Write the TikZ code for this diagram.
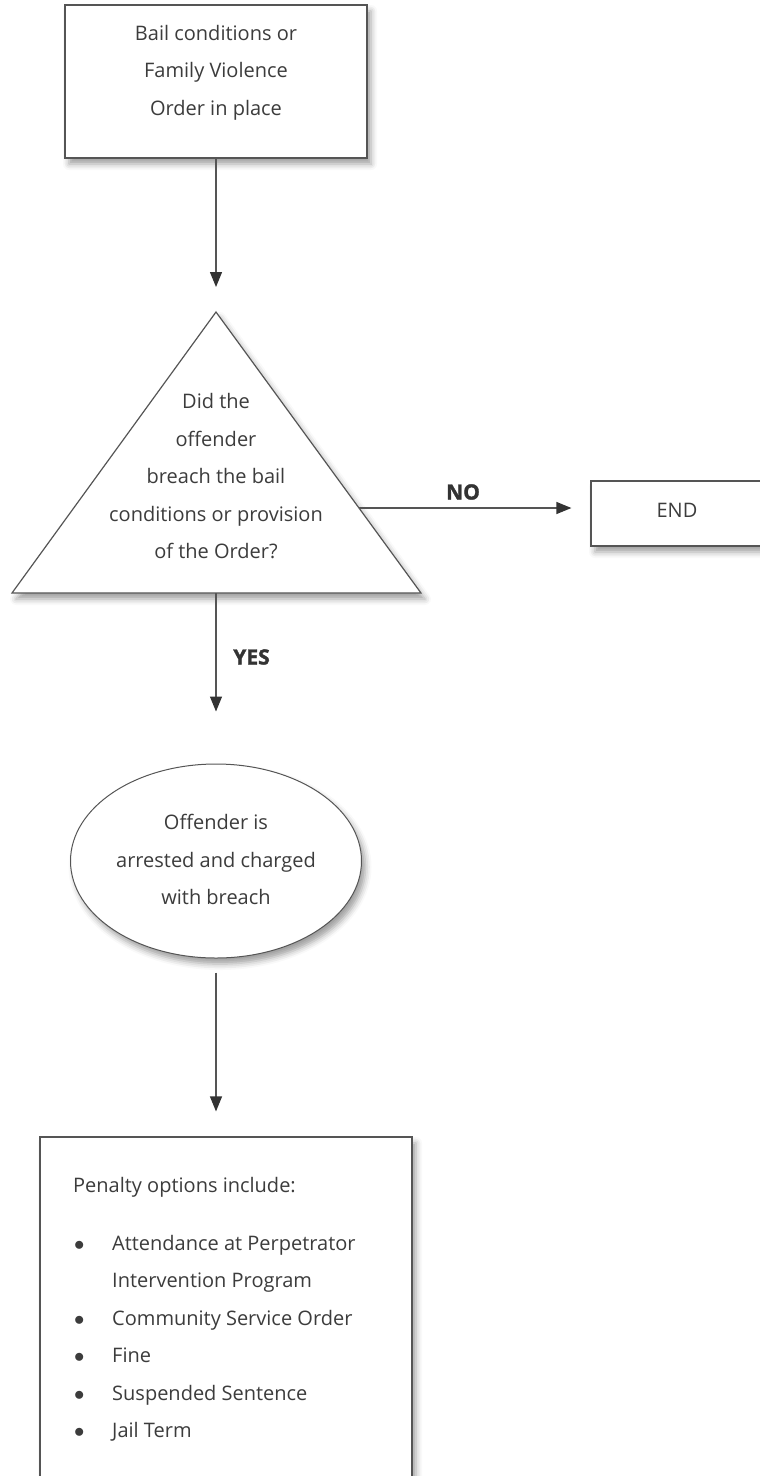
\documentclass[tikz,border=0pt]{standalone}
\usepackage{fontspec}
\setmainfont{Open Sans}
\newfontfamily\heavyfont[BoldFeatures={FakeBold=1.6}]{Open Sans}
\usetikzlibrary{arrows.meta,shapes.geometric,shadows.blur,calc}
\definecolor{ink}{HTML}{3C3C3C}
\definecolor{edge}{HTML}{555555}
\definecolor{tipc}{HTML}{333333}
\begin{document}
\begin{tikzpicture}[x=1pt,y=-1pt,
  softshadow/.style={blur shadow={shadow xshift=4pt,shadow yshift=-6pt,shadow blur radius=6pt,shadow opacity=38}},
  boxsh/.style={draw=edge,line width=1.2pt,fill=white,rectangle,inner sep=0pt,softshadow},
  ellsh/.style={draw=edge,line width=1pt,fill=white,ellipse,inner sep=0pt,softshadow},
  txt/.style={font=\fontsize{20}{37.5}\selectfont,text=ink,align=center,inner sep=0pt},
  ptxt/.style={font=\fontsize{20}{37.5}\selectfont,text=ink,inner sep=0pt,anchor=base west},
  lbl/.style={font=\fontsize{21}{21}\selectfont\heavyfont\bfseries,text=tipc,inner sep=0pt},
  arr/.style={draw=edge,line width=1.2pt,-{Triangle[length=15pt,width=12pt,fill=tipc,color=tipc]}}
]
\useasboundingbox (0,0) rectangle (760,1476);

% start box
\node[boxsh,minimum width=302pt,minimum height=153pt] (start) at (216,81.5) {};
\node[txt] (starttxt) at (216,72.5) {Bail conditions or\\Family Violence\\Order in place};

% decision triangle
\coordinate (apex) at (216,312);
\coordinate (bl) at (12,593);
\coordinate (br) at (421,593);
\coordinate (basemid) at (216,593);
\path[draw=edge,line width=1.2pt,fill=white,softshadow] (apex) -- (br) -- (bl) -- cycle;
\node[txt] (qtxt) at (216,476.5) {Did the\\offender\\breach the bail\\conditions or provision\\of the Order?};
\coordinate (noout) at ($(apex)!0.6975!(br)$);

% END box
\node[boxsh,minimum width=176pt,minimum height=65pt] (endb) at (679,513.5) {};
\node[txt] (endtxt) at (677,510) {END};

% ellipse
\node[ellsh,minimum width=291pt,minimum height=194pt] (ell) at (216,861) {};
\node[txt] (elltxt) at (216,859.5) {Offender is\\arrested and charged\\with breach};

% penalty box
\node[boxsh,minimum width=372pt,minimum height=363pt] (pen) at (226,1318.5) {};
\node[ptxt] (ph) at (73,1192) {Penalty options include:};
\foreach \yy/\tt [count=\i] in {1250/Attendance at Perpetrator,1325/Community Service Order,1362.5/Fine,1400/Suspended Sentence,1437.5/Jail Term}{
  \node[ptxt] (bul\i) at (74,\yy) {$\bullet$};
  \node[ptxt] (item\i) at (112,\yy) {\tt};
}
\node[ptxt] (item1b) at (112,1287.5) {Intervention Program};

% connectors
\draw[arr,shorten >=25pt] (start.south) -- (apex);
\draw[arr,shorten >=19pt] (noout) -- (noout -| endb.west);
\draw[arr,shorten >=52pt] (basemid) -- (ell.north);
\draw[arr,shorten <=14pt,shorten >=25pt] (ell.south) -- (ell.south |- pen.north);

% labels
\node[lbl] (nolbl) at (463,492) {NO};
\node[lbl] (yeslbl) at (251.5,657) {YES};
\end{tikzpicture}
\end{document}
